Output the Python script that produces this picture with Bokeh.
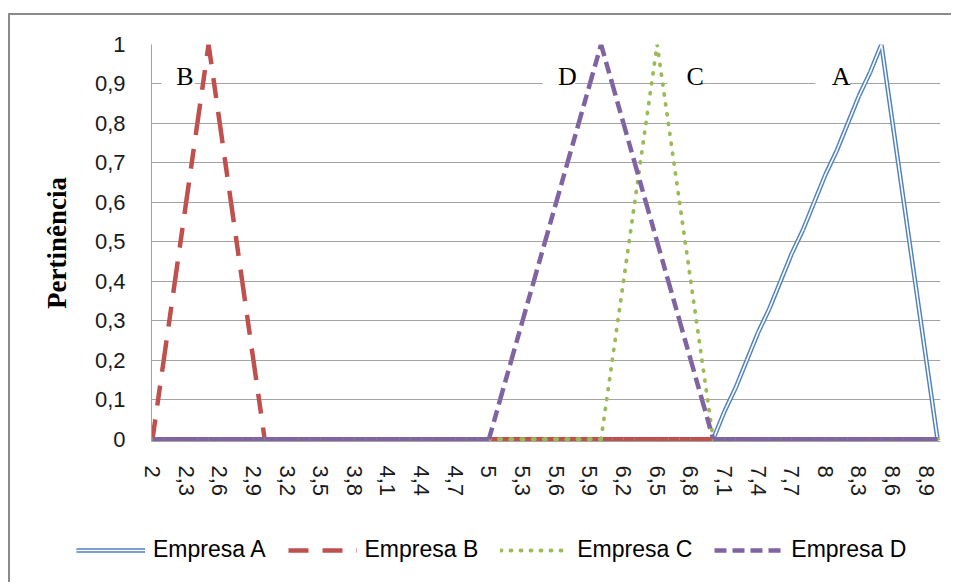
from bokeh.plotting import figure
from bokeh.models import Range1d, FixedTicker, Legend, LegendItem, ColumnDataSource
from bokeh.core.properties import value
from bokeh.embed import file_html
from bokeh.resources import INLINE

# ---------------- data ----------------
x_vals = [2.0, 2.1, 2.2, 2.3, 2.4, 2.5, 2.6, 2.7, 2.8, 2.9,
          3.0, 3.1, 3.2, 3.3, 3.4, 3.5, 3.6, 3.7, 3.8, 3.9,
          4.0, 4.1, 4.2, 4.3, 4.4, 4.5, 4.6, 4.7, 4.8, 4.9,
          5.0, 5.1, 5.2, 5.3, 5.4, 5.5, 5.6, 5.7, 5.8, 5.9,
          6.0, 6.1, 6.2, 6.3, 6.4, 6.5, 6.6, 6.7, 6.8, 6.9,
          7.0, 7.1, 7.2, 7.3, 7.4, 7.5, 7.6, 7.7, 7.8, 7.9,
          8.0, 8.1, 8.2, 8.3, 8.4, 8.5, 8.6, 8.7, 8.8, 8.9,
          9.0]

empresa_a = [0, 0, 0, 0, 0, 0, 0, 0, 0, 0,
             0, 0, 0, 0, 0, 0, 0, 0, 0, 0,
             0, 0, 0, 0, 0, 0, 0, 0, 0, 0,
             0, 0, 0, 0, 0, 0, 0, 0, 0, 0,
             0, 0, 0, 0, 0, 0, 0, 0, 0, 0,
             0, 0.07, 0.13, 0.2, 0.27, 0.33, 0.4, 0.47, 0.53, 0.6,
             0.67, 0.73, 0.8, 0.87, 0.93, 1.0, 0.8, 0.6, 0.4, 0.2,
             0]

empresa_b = [0, 0.2, 0.4, 0.6, 0.8, 1.0, 0.8, 0.6, 0.4, 0.2,
             0, 0, 0, 0, 0, 0, 0, 0, 0, 0,
             0, 0, 0, 0, 0, 0, 0, 0, 0, 0,
             0, 0, 0, 0, 0, 0, 0, 0, 0, 0,
             0, 0, 0, 0, 0, 0, 0, 0, 0, 0,
             0, 0, 0, 0, 0, 0, 0, 0, 0, 0,
             0, 0, 0, 0, 0, 0, 0, 0, 0, 0,
             0]

empresa_c = [0, 0, 0, 0, 0, 0, 0, 0, 0, 0,
             0, 0, 0, 0, 0, 0, 0, 0, 0, 0,
             0, 0, 0, 0, 0, 0, 0, 0, 0, 0,
             0, 0, 0, 0, 0, 0, 0, 0, 0, 0,
             0, 0.2, 0.4, 0.6, 0.8, 1.0, 0.8, 0.6, 0.4, 0.2,
             0, 0, 0, 0, 0, 0, 0, 0, 0, 0,
             0, 0, 0, 0, 0, 0, 0, 0, 0, 0,
             0]

empresa_d = [0, 0, 0, 0, 0, 0, 0, 0, 0, 0,
             0, 0, 0, 0, 0, 0, 0, 0, 0, 0,
             0, 0, 0, 0, 0, 0, 0, 0, 0, 0,
             0, 0.1, 0.2, 0.3, 0.4, 0.5, 0.6, 0.7, 0.8, 0.9,
             1.0, 0.9, 0.8, 0.7, 0.6, 0.5, 0.4, 0.3, 0.2, 0.1,
             0, 0, 0, 0, 0, 0, 0, 0, 0, 0,
             0, 0, 0, 0, 0, 0, 0, 0, 0, 0,
             0]

series_names = ["Empresa A", "Empresa B", "Empresa C", "Empresa D"]

x_ticks = [2.0, 2.3, 2.6, 2.9, 3.2, 3.5, 3.8, 4.1, 4.4, 4.7, 5.0, 5.3,
           5.6, 5.9, 6.2, 6.5, 6.8, 7.1, 7.4, 7.7, 8.0, 8.3, 8.6, 8.9]
x_tick_labels = ["2", "2,3", "2,6", "2,9", "3,2", "3,5", "3,8", "4,1", "4,4", "4,7", "5", "5,3",
                 "5,6", "5,9", "6,2", "6,5", "6,8", "7,1", "7,4", "7,7", "8", "8,3", "8,6", "8,9"]
y_ticks = [0, 0.1, 0.2, 0.3, 0.4, 0.5, 0.6, 0.7, 0.8, 0.9, 1.0]
y_tick_labels = ["0", "0,1", "0,2", "0,3", "0,4", "0,5", "0,6", "0,7", "0,8", "0,9", "1"]

# annotation letters (text boxes)
label_text = ["B", "D", "C", "A"]
label_x = [2.29, 5.70, 6.84, 8.14]
label_y = [0.92, 0.92, 0.92, 0.92]
box_left = [2.08, 5.48, 6.59, 7.91]
box_right = [2.38, 5.77, 6.90, 8.22]
box_bottom = [0.885, 0.885, 0.885, 0.885]
box_top = [0.965, 0.965, 0.965, 0.965]

# line styles
STYLE_A_OUT = dict(line_color="#4f81bd", line_width=4.5)
STYLE_A_IN = dict(line_color="white", line_width=1.6)
STYLE_B = dict(line_color="#c0504d", line_width=4.5, line_dash="20 14")
STYLE_C = dict(line_color="#9bbb59", line_width=3.8, line_dash="1 9", line_cap="round")
STYLE_D = dict(line_color="#8064a2", line_width=4.5, line_dash="12 6")
BORDER = "2px solid #8a8a8a"

# ---------------- main figure ----------------
GRID = "#a3a3a3"
p = figure(width=943, height=510,
           x_range=Range1d(1.9911, 9.0268), y_range=Range1d(-0.006, 1.0),
           output_backend="svg", toolbar_location=None,
           min_border_left=141, min_border_right=13, min_border_top=29, min_border_bottom=84,
           background_fill_color="white", border_fill_color="white",
           outline_line_color=None)
p.styles = {"margin-left": "8px", "margin-top": "13px",
            "border-top": BORDER, "border-left": BORDER}

p.xgrid.grid_line_color = None
p.ygrid.ticker = FixedTicker(ticks=y_ticks)
p.ygrid.grid_line_color = GRID
p.ygrid.grid_line_width = 1

# y axis
p.yaxis.ticker = FixedTicker(ticks=y_ticks)
p.yaxis.major_label_overrides = dict(zip(y_ticks, y_tick_labels))
p.yaxis.major_tick_line_color = None
p.yaxis.minor_tick_line_color = None
p.yaxis.major_tick_out = 0
p.yaxis.major_tick_in = 0
p.yaxis.axis_line_color = GRID
p.yaxis.major_label_standoff = 26
p.yaxis.major_label_text_font = "Liberation Sans"
p.yaxis.major_label_text_font_size = "22px"
p.yaxis.major_label_text_color = "#1a1a1a"
p.yaxis.axis_label = "Pertinência"
p.yaxis.axis_label_text_font = "Liberation Serif"
p.yaxis.axis_label_text_font_style = "bold"
p.yaxis.axis_label_text_font_size = "27px"
p.yaxis.axis_label_text_color = "black"
p.yaxis.axis_label_standoff = 20

# x axis
p.xaxis.ticker = FixedTicker(ticks=x_ticks)
p.xaxis.major_label_overrides = dict(zip(x_ticks, x_tick_labels))
p.xaxis.major_label_orientation = "vertical"
p.xaxis.major_tick_line_color = None
p.xaxis.minor_tick_line_color = None
p.xaxis.major_tick_out = 0
p.xaxis.major_tick_in = 0
p.xaxis.axis_line_color = GRID
p.xaxis.major_label_standoff = 24
p.xaxis.major_label_text_font = "Liberation Sans"
p.xaxis.major_label_text_font_size = "22px"
p.xaxis.major_label_text_color = "#1a1a1a"

# white text boxes and letters
p.quad(left=box_left, right=box_right, bottom=box_bottom, top=box_top,
       fill_color="white", line_color=None)
p.text(x=label_x, y=label_y, text=label_text, text_font=value("Liberation Serif"),
       text_font_size=value("26px"), text_align="center", text_baseline="middle",
       text_color="black")


def seg_source(ys):
    return ColumnDataSource(dict(x0=x_vals[:-1], x1=x_vals[1:], y0=ys[:-1], y1=ys[1:]))


src_a = seg_source(empresa_a)
p.segment("x0", "y0", "x1", "y1", source=src_a, **STYLE_A_OUT)
p.segment("x0", "y0", "x1", "y1", source=src_a, **STYLE_A_IN)
p.segment("x0", "y0", "x1", "y1", source=seg_source(empresa_b), **STYLE_B)
p.segment("x0", "y0", "x1", "y1", source=seg_source(empresa_c), **STYLE_C)
p.segment("x0", "y0", "x1", "y1", source=seg_source(empresa_d), **STYLE_D)

# ---------------- legend strip (separate root, stacked below) ----------------
# its ranges lie outside the data, so the series lines themselves stay hidden here
pl = figure(width=943, height=59, x_range=Range1d(100, 101), y_range=Range1d(100, 101),
            output_backend="svg", toolbar_location=None,
            x_axis_type=None, y_axis_type=None, min_border=0,
            min_border_left=0, min_border_right=0, min_border_top=0, min_border_bottom=0,
            background_fill_color="white", border_fill_color="white",
            outline_line_color=None)
pl.grid.visible = False
pl.styles = {"margin-left": "8px", "border-left": BORDER}

la1 = pl.line(x=x_vals, y=empresa_a, **STYLE_A_OUT)
la2 = pl.line(x=x_vals, y=empresa_a, **STYLE_A_IN)
lb = pl.line(x=x_vals, y=empresa_b, **STYLE_B)
lc = pl.line(x=x_vals, y=empresa_c, **STYLE_C)
ld = pl.line(x=x_vals, y=empresa_d, **STYLE_D)

legend = Legend(items=[LegendItem(label=series_names[0], renderers=[la1, la2]),
                       LegendItem(label=series_names[1], renderers=[lb]),
                       LegendItem(label=series_names[2], renderers=[lc]),
                       LegendItem(label=series_names[3], renderers=[ld])],
                orientation="horizontal", location=(66, 19),
                border_line_color=None, background_fill_alpha=0,
                glyph_width=69, glyph_height=20, label_standoff=8, spacing=22,
                label_text_font="Liberation Sans", label_text_font_size="23px",
                label_text_color="black", padding=2, margin=0)
pl.add_layout(legend, "center")

open("out.html", "w").write(file_html([p, pl], INLINE))
